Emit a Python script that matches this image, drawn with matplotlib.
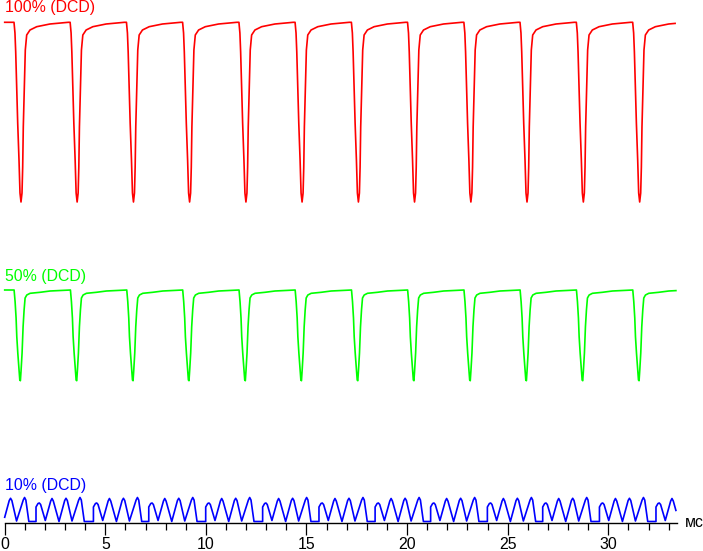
import numpy as np
import matplotlib
matplotlib.use("Agg")
import matplotlib.pyplot as plt
from matplotlib.ticker import MultipleLocator

plt.rcParams["font.family"] = ["Liberation Sans", "DejaVu Sans"]

# times (ms) of the deepest point of each dip
red_dips = [0.81, 3.60, 6.40, 9.19, 11.99, 14.78, 17.58, 20.37, 23.17, 25.96, 28.76, 31.56]
green_dips = [0.78, 3.58, 6.38, 9.16, 11.96, 14.75, 17.55, 20.34, 23.14, 25.93, 28.73, 31.53]
# times (ms) where the blue trace jumps up after its flat gap
blue_jumps = [-1.20, 1.556, 4.41, 7.16, 9.99, 12.82, 15.62, 18.41, 21.17, 23.99, 26.74, 29.56, 32.37]

# one dip of each trace: time offset (ms) and level (arbitrary units)
red_dt = [-0.348, -0.30, -0.263, -0.214, -0.164, -0.099, -0.05, 0.0,
          0.05, 0.084, 0.114, 0.164, 0.214, 0.283, 0.447, 0.78, 1.44, 2.35]
red_lv = [500.7, 490, 471, 436, 400, 363, 330, 321,
          330, 356, 396, 436, 473, 488, 493, 496.3, 499, 500.7]

green_dt = [-0.313, -0.263, -0.214, -0.179, -0.129, -0.080, -0.030, 0.0,
            0.035, 0.084, 0.134, 0.184, 0.234, 0.318, 0.482, 0.979, 1.476, 2.386]
green_lv = [233, 221.3, 205, 186.3, 170, 156.3, 143, 142.3,
            153, 170, 196.3, 213, 225, 228, 229.7, 230.7, 232, 233]

blue_dt = [0.0, 0.0, 0.10, 0.164, 0.229, 0.462,
           0.731, 0.795, 0.860, 1.143,
           1.426, 1.491, 1.556, 1.789,
           2.122, 2.187, 2.251, 2.40]
blue_lv = [1.5, 16, 19.5, 20, 18.5, 2.5,
           22, 24.5, 22, 1.5,
           22.5, 24.7, 22.5, 2.0,
           23, 25.5, 23, 1.5]

# where each trace stops on the right (ms)
red_end = 33.32
green_end = 33.36
blue_end = 33.36


def build(times, dt, lv, t1):
    t = np.concatenate([tt + np.array(dt) for tt in times])
    y = np.tile(lv, len(times))
    keep = (t >= 0) & (t <= t1)
    ya = np.interp(0.0, t, y)
    yb = np.interp(t1, t, y)
    return (np.concatenate([[0.0], t[keep], [t1]]),
            np.concatenate([[ya], y[keep], [yb]]))


fig = plt.figure(figsize=(7.03, 5.51), dpi=100)
W, H = 703, 551
ax = fig.add_axes([4.7 / W, 28 / H, (676.7 - 4.7) / W, 523 / H])
ax.set_xlim(0, 33.4)
ax.set_ylim(0, 523)

rt, ry = build(red_dips, red_dt, red_lv, red_end)
gt, gy = build(green_dips, green_dt, green_lv, green_end)
bt, by = build(blue_jumps, blue_dt, blue_lv, blue_end)

lw = 1.2
ax.plot(rt, ry, color="#ff0000", lw=lw, clip_on=False)
ax.plot(gt, gy, color="#00ff00", lw=lw, clip_on=False)
ax.plot(bt, by, color="#0000ff", lw=lw, clip_on=False)

fs = 11.4
ax.text(0.015, 510.7, "100% (DCD)", color="#ff0000", fontsize=fs, va="baseline")
ax.text(0.015, 242.3, "50% (DCD)", color="#00ff00", fontsize=fs, va="baseline")
ax.text(0.015, 33.0, "10% (DCD)", color="#0000ff", fontsize=fs, va="baseline")

for s in ["left", "right", "top"]:
    ax.spines[s].set_visible(False)
ax.spines["bottom"].set_linewidth(1.0)
ax.set_yticks([])
ax.xaxis.set_major_locator(MultipleLocator(5))
ax.xaxis.set_minor_locator(MultipleLocator(1))
ax.tick_params(axis="x", which="major", length=8.9, width=0.9, pad=1.2, labelsize=fs)
ax.tick_params(axis="x", which="minor", length=4.8, width=0.9)
ax.patch.set_visible(False)

fig.text(685 / W, (H - 527.3) / H, "мс", fontsize=fs, va="baseline", ha="left")

fig.savefig("out.png", dpi=100)
